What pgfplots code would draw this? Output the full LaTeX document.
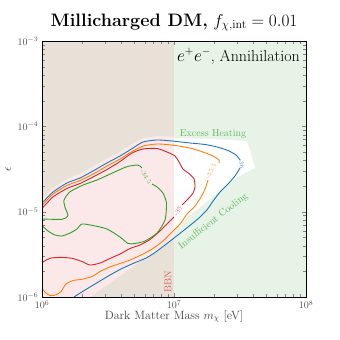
\documentclass[border=0pt]{standalone}
\usepackage{pgfplots}
\pgfplotsset{compat=1.18}
\definecolor{tabblue}{RGB}{31,119,180}
\definecolor{taborange}{RGB}{255,127,14}
\definecolor{tabgreen}{RGB}{44,160,44}
\definecolor{tabred}{RGB}{214,39,40}
\definecolor{bgtan}{RGB}{232,225,215}
\definecolor{bggreen}{RGB}{231,243,230}
\definecolor{bgpink}{RGB}{251,232,232}
\tikzset{
  cline/.style={line width=0.9pt, smooth, tension=0.4},
  clab/.style={font=\fontsize{6.5}{7}\selectfont, inner sep=0pt},
}
\begin{document}
\begin{tikzpicture}
\useasboundingbox (-42pt,-43pt) rectangle (298pt,297pt);
\begin{axis}[
  xmode=log, ymode=log,
  xmin=1e6, xmax=1e8, ymin=1e-6, ymax=1e-3,
  width=264pt, height=256pt, scale only axis,
  axis on top,
  xtick={1e6,1e7,1e8}, ytick={1e-6,1e-5,1e-4,1e-3},
  title={\textbf{Millicharged DM,} $f_{\chi,\mathrm{int}}=0.01$},
  title style={font=\fontsize{18}{21}\selectfont, at={(0.5,1)}, anchor=base, yshift=9pt},
  xlabel={Dark Matter Mass $m_\chi$ [eV]},
  ylabel={$\epsilon$},
  label style={font=\fontsize{12}{14}\selectfont, text=black!75},
  xlabel style={at={(0.5,0)}, anchor=base, yshift=-22pt},
  tick label style={font=\normalsize, text=black!70},
]
% background regions
\addplot[draw=none, fill=bgtan] coordinates {(1e6,1e-6) (1e7,1e-6) (1e7,1e-3) (1e6,1e-3)} -- cycle;
\addplot[draw=none, fill=bggreen] coordinates {(1e7,1e-6) (1e8,1e-6) (1e8,1e-3) (1e7,1e-3)} -- cycle;
\addplot[draw=none, fill=bgpink] coordinates {
  (1e6,1.41e-5) (1.211e6,1.89e-5) (1.547e6,2.42e-5) (1.941e6,2.80e-5) (2.435e6,3.39e-5)
  (3.107e6,4.20e-5) (3.899e6,5.07e-5) (4.891e6,6.30e-5) (5.824e6,7.30e-5) (7.433e6,7.69e-5)
  (1e7,7.60e-5) (1e7,4.91e-6) (2.310e6,1e-6) (1e6,1e-6)} -- cycle;
\addplot[draw=none, fill=white] coordinates {
  (1e7,7.30e-5) (1.874e7,7.11e-5) (3.573e7,6.73e-5) (3.765e7,5.28e-5) (4.108e7,3.25e-5)
  (3.573e7,2.92e-5) (2.656e7,2.23e-5) (2.118e7,1.65e-5) (1.574e7,1.13e-5) (1.170e7,7.99e-6)
  (1e7,6.10e-6)} -- cycle;

% contour -36
\addplot[tabblue, cline] coordinates {
  (1e6,1.26e-5) (1.211e6,1.70e-5) (1.547e6,2.17e-5) (1.941e6,2.48e-5) (2.435e6,3.00e-5)
  (3.107e6,3.72e-5) (3.899e6,4.49e-5) (4.891e6,5.57e-5) (5.824e6,6.55e-5) (7.433e6,6.92e-5)
  (9.656e6,6.73e-5) (1.322e7,6.38e-5) (1.717e7,6.13e-5) (2.118e7,5.73e-5) (2.565e7,5.21e-5)
  (2.949e7,4.61e-5) (3.162e7,4.03e-5)};
\addplot[tabblue, cline] coordinates {
  (3.162e7,3.25e-5) (2.898e7,2.62e-5) (2.520e7,2.05e-5) (2.232e7,1.70e-5) (1.975e7,1.33e-5)
  (1.778e7,1.05e-5) (1.574e7,8.66e-6) (1.393e7,7.37e-6) (1.170e7,5.94e-6) (1.000e7,4.91e-6)
  (8.547e6,4.07e-6) (7.180e6,3.32e-6) (6.136e6,2.86e-6) (4.891e6,2.47e-6) (4.037e6,2.16e-6)
  (3.275e6,1.81e-6) (2.751e6,1.54e-6) (2.310e6,1.31e-6) (1.941e6,1.11e-6) (1.747e6,1.00e-6)};
% contour -35.5
\addplot[taborange, cline] coordinates {
  (1e6,1.18e-5) (1.211e6,1.61e-5) (1.547e6,2.03e-5) (1.941e6,2.32e-5) (2.435e6,2.76e-5)
  (3.107e6,3.43e-5) (3.899e6,4.14e-5) (4.891e6,5.14e-5) (5.824e6,5.88e-5) (7.433e6,6.21e-5)
  (9.656e6,6.04e-5) (1.322e7,5.57e-5) (1.658e7,5.00e-5) (1.975e7,4.49e-5) (2.193e7,4.03e-5)
  (2.193e7,3.72e-5)};
\addplot[taborange, cline] coordinates {
  (1.810e7,2.35e-5) (1.717e7,1.84e-5) (1.574e7,1.41e-5) (1.417e7,1.13e-5) (1.255e7,9.39e-6)
  (1.110e7,7.17e-6) (9.656e6,5.78e-6) (8.254e6,4.53e-6) (6.932e6,3.70e-6) (5.824e6,3.19e-6)
  (4.642e6,2.71e-6) (3.899e6,2.47e-6) (3.275e6,2.25e-6) (2.751e6,1.99e-6) (2.435e6,1.76e-6)
  (2.045e6,1.62e-6) (1.718e6,1.56e-6) (1.520e6,1.42e-6) (1.393e6,1.16e-6) (1.276e6,1.06e-6)
  (1.150e6,1.04e-6) (1.054e6,1.14e-6) (1e6,1.27e-6)};
% contour -35
\addplot[tabred, cline] coordinates {
  (1e6,1.09e-5) (1.211e6,1.49e-5) (1.547e6,1.87e-5) (1.941e6,2.14e-5) (2.435e6,2.55e-5)
  (3.107e6,3.12e-5) (3.899e6,3.87e-5) (4.806e6,4.87e-5) (5.824e6,5.43e-5) (7.433e6,5.50e-5)
  (8.851e6,5.00e-5) (1.018e7,4.49e-5) (1.091e7,3.82e-5) (1.170e7,3.16e-5) (1.299e7,2.80e-5)
  (1.417e7,2.42e-5) (1.442e7,1.97e-5) (1.393e7,1.65e-5) (1.255e7,1.37e-5) (1.150e7,1.20e-5)};
\addplot[tabred, cline] coordinates {
  (1.000e7,8.66e-6) (9.005e6,7.37e-6) (7.832e6,5.94e-6) (6.579e6,4.72e-6) (5.526e6,4.07e-6)
  (4.642e6,3.70e-6) (3.899e6,3.19e-6) (3.275e6,2.83e-6) (2.751e6,2.50e-6) (2.310e6,2.37e-6)
  (2.009e6,2.61e-6) (1.688e6,2.84e-6) (1.369e6,2.92e-6) (1.150e6,2.84e-6) (1e6,2.54e-6)};
% contour -34.5
\addplot[tabgreen, cline] coordinates {
  (1e6,8.21e-6) (1.417e6,8.14e-6) (1.574e6,8.97e-6) (1.494e6,1.125e-5) (1.468e6,1.37e-5)
  (1.630e6,1.71e-5) (2.045e6,2.05e-5) (2.610e6,2.35e-5) (3.451e6,2.86e-5) (4.405e6,3.37e-5)
  (5.337e6,3.52e-5) (5.722e6,3.25e-5)};
\addplot[tabgreen, cline] coordinates {
  (6.812e6,2.11e-5) (7.433e6,1.95e-5) (8.254e6,1.65e-5) (8.773e6,1.25e-5) (8.547e6,7.99e-6)
  (7.433e6,5.62e-6) (6.030e6,4.53e-6) (5.064e6,4.24e-6) (4.482e6,4.24e-6) (3.899e6,5.05e-6)
  (3.107e6,6.27e-6) (2.435e6,6.88e-6) (2.009e6,7.17e-6) (1.842e6,6.27e-6) (1.630e6,5.62e-6)
  (1.417e6,5.19e-6) (1.254e6,5.33e-6) (1.110e6,5.94e-6) (1.009e6,6.79e-6)};

% contour labels
\node[clab, text=tabblue!80, rotate=-80] at (axis cs:3.25e7,3.62e-5) {-36};
\node[clab, text=taborange!80, rotate=60] at (axis cs:1.907e7,2.96e-5) {-35.5};
\node[clab, text=tabred!80, rotate=56] at (axis cs:1.072e7,1.02e-5) {-35};
\node[clab, text=tabgreen!80, rotate=-58] at (axis cs:6.136e6,2.58e-5) {-34.5};

% region labels
\node[text=tabgreen!75!white, font=\normalsize] at (axis cs:1.975e7,8.13e-5) {Excess Heating};
\node[text=tabgreen!75!white, font=\normalsize, rotate=38] at (axis cs:1.98e7,7.7e-6) {Insufficient Cooling};
\node[text=tabred!75!white, font=\normalsize, rotate=90] at (axis cs:9.0e6,1.5e-6) {BBN};
\node[anchor=north east, font=\fontsize{16}{19}\selectfont] at (rel axis cs:0.99,0.985) {$e^{+}e^{-}$, Annihilation};
\end{axis}
\end{tikzpicture}
\end{document}
